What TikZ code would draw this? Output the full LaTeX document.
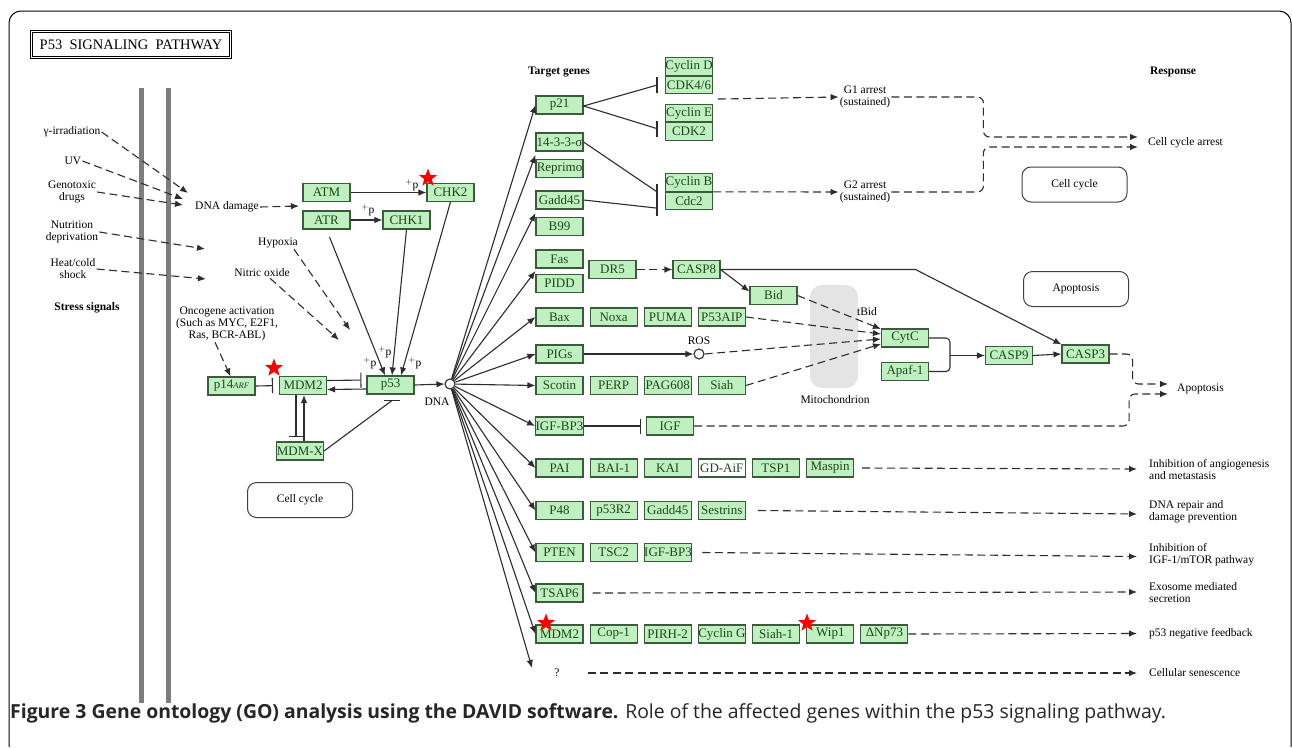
\documentclass[tikz,border=0pt]{standalone}
\usepackage{fontspec}
\setmainfont{Liberation Serif}
\newfontfamily\capfont{Open Sans}
\usetikzlibrary{arrows.meta}
\usetikzlibrary{positioning}
\usetikzlibrary{shapes.geometric}
\usetikzlibrary{calc}

\definecolor{genefill}{RGB}{191,240,191}
\definecolor{geneline}{RGB}{60,90,60}
\definecolor{genetext}{RGB}{30,70,30}
\definecolor{linegray}{RGB}{45,45,45}
\definecolor{mitogray}{RGB}{228,228,228}
\definecolor{bargray}{RGB}{125,125,125}

\newcommand{\genesize}{\fontsize{13}{13}\selectfont}
\newcommand{\labsize}{\fontsize{11.5}{12}\selectfont}

\begin{document}
\begin{tikzpicture}
        [
            x = 1pt, y = -1pt,
            > = {Latex[length=8pt,width=6.5pt]},
            gene/.style = {rectangle, draw=geneline, fill=genefill, line width=1.1pt, text=genetext,
                minimum width=47pt, minimum height=18pt, inner sep=0pt, font=\genesize},
            lab/.style = {align=center, font=\labsize, inner sep=1pt},
            resp/.style = {anchor=west, align=left, font=\labsize, inner sep=0pt},
            link/.style = {draw=linegray, line width=1.1pt},
            dashlink/.style = {link, dash pattern=on 8pt off 4.5pt},
            inh/.style = {link, -{Bar[width=15pt,line width=1.1pt]}},
            region/.style = {rectangle, draw=black!75, line width=1pt, rounded corners=9pt,
                minimum width=105pt, minimum height=35pt, font=\labsize},
            hit/.style = {star, star points=5, star point ratio=2.4, fill=red, minimum size=19pt, inner sep=0pt},
            port/.style = {circle, draw=linegray, fill=white, line width=1.1pt, minimum size=10pt, inner sep=0pt}
        ]
        \useasboundingbox (0,0) rectangle (1292,747);
        \fill [white] (0,0) rectangle (1292,747);
        \draw [line width=1pt, rounded corners=12pt] (9,747) -- (9,11) -- (1291,11) -- (1291,747);

        % membrane and mitochondrion
        \fill [bargray] (138.5,88) rectangle (143.5,703);
        \fill [bargray] (165.5,88) rectangle (170.5,703);
        \fill [mitogray, rounded corners=12pt] (810,285) rectangle (858,388);

        \node [draw, line width=0.8pt, double, double distance=1.6pt, minimum width=199pt, minimum height=26pt,
            font=\fontsize{14.5}{14.5}\selectfont] (title) at (131,44.5) {P53\ \ SIGNALING\ \ PATHWAY};

        % stress signals
        \node [lab] (gamma) at (72,132) {γ-irradiation};
        \node [lab] (uv) at (73,161) {UV};
        \node [lab] (geno) at (72,192) {Genotoxic\\drugs};
        \node [lab] (nutri) at (72,232) {Nutrition\\deprivation};
        \node [lab] (heat) at (73,269) {Heat/cold\\shock};
        \node [lab, font=\labsize\bfseries] (stress) at (87,308) {Stress signals};
        \node [lab] (dnadmg) at (227,207) {DNA damage};
        \node [lab] (hypoxia) at (278,243) {Hypoxia};
        \node [lab] (nitric) at (262,273) {Nitric oxide};
        \node [lab] (onco) at (227,324) {Oncogene activation\\(Such as MYC, E2F1,\\Ras, BCR-ABL)};

        % p53 core
        \node [gene] (atm) at (326.5,192.5) {ATM};
        \node [gene] (atr) at (326.5,220) {ATR};
        \node [gene] (chk2) at (450.5,192.5) {CHK2};
        \node [gene] (chk1) at (406.5,220) {CHK1};
        \node [gene] (p53) at (390.5,385) {p53};
        \node [gene] (mdm2) at (303,385.5) {MDM2};
        \node [gene] (p14arf) at (231.5,386) {p14{\fontsize{8.5}{8.5}\selectfont\itshape ARF}};
        \node [gene] (mdmx) at (300,451) {MDM-X};
        \node [port] (dna) at (450,384) {};
        \node [lab] (dnalab) at (437,402) {DNA};
        \node [region] (cyclel) at (300,500) {Cell cycle};
        \node [lab] (plus1) at (412,185) {$^{+}$p};
        \node [lab] (plus2) at (368,210) {$^{+}$p};
        \node [lab] (plus3) at (370,363) {$^{+}$p};
        \node [lab] (plus4) at (385,352) {$^{+}$p};
        \node [lab] (plus5) at (415,363) {$^{+}$p};

        % target genes
        \node [lab, font=\labsize\bfseries] (target) at (559,72) {Target genes};
        \node [gene] (p21) at (559.5,105) {p21};
        \node [gene] (sigma) at (559.5,142) {14-3-3-σ};
        \node [gene, below=7pt of sigma] (reprimo) {Reprimo};
        \node [gene] (gadd45a) at (559.5,200) {Gadd45};
        \node [gene, below=7pt of gadd45a] (b99) {B99};
        \node [gene] (fas) at (559.5,259) {Fas};
        \node [gene, below=5pt of fas] (pidd) {PIDD};
        \node [gene] (bax) at (559.5,317) {Bax};
        \node [gene, right=6pt of bax] (noxa) {Noxa};
        \node [gene, right=6pt of noxa] (puma) {PUMA};
        \node [gene, right=6pt of puma] (p53aip) {P53AIP};
        \node [gene] (pigs) at (559.5,354) {PIGs};
        \node [gene] (scotin) at (559.5,385.5) {Scotin};
        \node [gene, right=6pt of scotin] (perp) {PERP};
        \node [gene, right=6pt of perp] (pag608) {PAG608};
        \node [gene, right=6pt of pag608] (siah) {Siah};
        \node [gene] (igfbp3a) at (559.5,426) {IGF-BP3};
        \node [gene] (igf) at (670,426) {IGF};
        \node [gene] (pai) at (559.5,468) {PAI};
        \node [gene, right=6pt of pai] (bai1) {BAI-1};
        \node [gene, right=6pt of bai1] (kai) {KAI};
        \node [gene, right=6pt of kai, fill=white] (gdaif) {GD-AiF};
        \node [gene, right=6pt of gdaif] (tsp1) {TSP1};
        \node [gene, right=6pt of tsp1] (maspin) {Maspin};
        \node [gene] (p48) at (559.5,510.5) {P48};
        \node [gene, right=6pt of p48] (p53r2) {p53R2};
        \node [gene, right=6pt of p53r2] (gadd45b) {Gadd45};
        \node [gene, right=6pt of gadd45b] (sestrins) {Sestrins};
        \node [gene] (pten) at (559.5,552.5) {PTEN};
        \node [gene, right=6pt of pten] (tsc2) {TSC2};
        \node [gene, right=6pt of tsc2] (igfbp3b) {IGF-BP3};
        \node [gene] (tsap6) at (559.5,593) {TSAP6};
        \node [gene] (mdm2b) at (559.5,634) {MDM2};
        \node [gene, right=6pt of mdm2b] (cop1) {Cop-1};
        \node [gene, right=6pt of cop1] (pirh2) {PIRH-2};
        \node [gene, right=6pt of pirh2] (cycg) {Cyclin G};
        \node [gene, right=6pt of cycg] (siah1) {Siah-1};
        \node [gene, right=6pt of siah1] (wip1) {Wip1};
        \node [gene, right=6pt of wip1] (dnp73) {ΔNp73};
        \node [lab] (unknown) at (557,673) {?};

        % cell cycle
        \node [gene, minimum height=17.5pt] (cycd) at (689,66.5) {Cyclin D};
        \node [gene, minimum height=17.5pt, below=0pt of cycd] (cdk46) {CDK4/6};
        \node [gene, minimum height=17.5pt] (cyce) at (689,113) {Cyclin E};
        \node [gene, minimum height=17.5pt, below=0pt of cyce] (cdk2) {CDK2};
        \node [gene, minimum height=17.5pt] (cycb) at (689,182.5) {Cyclin B};
        \node [gene, minimum height=17.5pt, below=0pt of cycb] (cdc2) {Cdc2};
        \node [lab] (g1) at (865,97) {G1 arrest\\(sustained)};
        \node [lab] (g2) at (865,192) {G2 arrest\\(sustained)};
        \node [region] (cycler) at (1074.5,184.5) {Cell cycle};

        % apoptosis
        \node [gene] (dr5) at (612.5,269.5) {DR5};
        \node [gene] (casp8) at (696.5,269.5) {CASP8};
        \node [gene] (bid) at (773.5,295.5) {Bid};
        \node [gene] (cytc) at (905,338) {CytC};
        \node [gene] (apaf) at (905,371.5) {Apaf-1};
        \node [gene] (casp9) at (1009,355.5) {CASP9};
        \node [gene] (casp3) at (1085.5,354) {CASP3};
        \node [port] (ros) at (699,354) {};
        \node [lab] (roslab) at (699,341) {ROS};
        \node [lab] (tbid) at (867,312) {tBid};
        \node [lab] (mito) at (835,400) {Mitochondrion};
        \node [region] (apopbox) at (1076,289) {Apoptosis};

        % response
        \node [lab, font=\labsize\bfseries] (response) at (1173,72) {Response};
        \node [resp] (ccarrest) at (1148,143) {Cell cycle arrest};
        \node [resp] (apoptosis) at (1177,389) {Apoptosis};
        \node [resp] (angio) at (1149,469) {Inhibition of angiogenesis\\and metastasis};
        \node [resp] (repair) at (1149,512) {DNA repair and\\damage prevention};
        \node [resp] (mtor) at (1149,554.5) {Inhibition of\\IGF-1/mTOR pathway};
        \node [resp] (exosome) at (1149,593) {Exosome mediated\\secretion};
        \node [resp] (feedback) at (1149,633.5) {p53 negative feedback};
        \node [resp] (senes) at (1149,673) {Cellular senescence};

        % hits
        \node [hit] (star1) at (428,178) {};
        \node [hit] (star2) at (274,368) {};
        \node [hit] (star3) at (546,623) {};
        \node [hit] (star4) at (807,623) {};

        \coordinate (dmgin1) at (188,193);
        \coordinate (dmgin2) at (183,199);
        \coordinate (dmgin3) at (183,205);
        \coordinate (nutend) at (205,249);
        \coordinate (heatend) at (206,279);
        \coordinate (atmatr) at (299,206);
        \coordinate (hypend) at (350,330);
        \coordinate (nitend) at (339,340);
        \coordinate (qend) at (532,668);
        \coordinate (mdmxbar) at ([xshift=1.5pt,yshift=-6pt]p53.south);
        \coordinate (cdbar) at ([xshift=-8pt]cdk46.west);
        \coordinate (cebar) at ([xshift=-8pt,yshift=3pt]cdk2.west);
        \coordinate (cbbar1) at ([xshift=-8pt]cycb.south west);
        \coordinate (cbbar2) at ([xshift=-8pt,yshift=-7pt]cdc2.west);
        \coordinate (ccin1) at ([xshift=-10pt,yshift=6pt]ccarrest.west);
        \coordinate (ccin2) at ([xshift=-10pt,yshift=-4pt]ccarrest.west);
        \coordinate (apin1) at ([xshift=-9pt,yshift=5pt]apoptosis.west);
        \coordinate (apin2) at ([xshift=-9pt,yshift=-5pt]apoptosis.west);
        \coordinate (c9join) at ($(casp9.west)+(-35,0)$);

        % stress connectors
        \draw [dashlink, ->] (gamma.east) -- (dmgin1);
        \draw [dashlink, ->] (uv.east) -- (dmgin2);
        \draw [dashlink, ->] (geno.east) -- (dmgin3);
        \draw [dashlink, ->] (nutri.east) -- (nutend);
        \draw [dashlink, ->] (heat.east) -- (heatend);
        \draw [dashlink, ->] (dnadmg.east) -- (atmatr);
        \draw [dashlink, ->] ([xshift=-5pt]hypoxia.south east) -- (hypend);
        \draw [dashlink, ->] ([xshift=8pt]nitric.south) -- (nitend);
        \draw [dashlink, ->] ([xshift=-12pt]onco.south) -- ([xshift=-1pt]p14arf.north);

        % p53 activation
        \draw [link, ->] (atm.east) -- (chk2.west);
        \draw [link, ->] (atr.east) -- (chk1.west);
        \draw [link, ->, shorten <=8pt] (atr.south) -- ([xshift=-5.5pt]p53.north);
        \draw [link, ->] (chk1.south) -- ([xshift=1.5pt]p53.north);
        \draw [link, ->] (chk2.south) -- ([xshift=10.5pt]p53.north);
        \draw [inh, shorten >=5pt] ([yshift=5pt]mdm2.east) -- ([yshift=5pt]p53.west);
        \draw [link, ->] ([yshift=-4pt]p53.west) -- ([yshift=-4pt]mdm2.east);
        \draw [inh, shorten >=6pt] (p14arf.east) -- (mdm2.west);
        \draw [inh, shorten >=4pt] ([xshift=-7pt]mdm2.south) -- ([xshift=-4pt]mdmx.north);
        \draw [link, ->] ([xshift=4pt]mdmx.north) -- ([xshift=1pt]mdm2.south);
        \draw [link] (mdmx.east) -- (mdmxbar);
        \draw [link] ([xshift=-8pt]mdmxbar) -- ([xshift=8pt]mdmxbar);
        \draw [link, ->] (p53.east) -- (dna.west);

        % DNA to target genes
        \draw [link, ->] (dna) -- (p21.west);
        \draw [link, ->] (dna) -- ($(sigma.south west)!0.5!(reprimo.north west)$);
        \draw [link, ->] (dna) -- ($(gadd45a.south west)!0.5!(b99.north west)$);
        \draw [link, ->] (dna) -- ($(fas.south west)!0.5!(pidd.north west)$);
        \draw [link, ->] (dna) -- (bax.west);
        \draw [link, ->] (dna) -- (pigs.west);
        \draw [link, ->] (dna) -- (scotin.west);
        \draw [link, ->] (dna) -- (igfbp3a.west);
        \draw [link, ->] (dna) -- (pai.west);
        \draw [link, ->] (dna) -- (p48.west);
        \draw [link, ->] (dna) -- (pten.west);
        \draw [link, ->] (dna) -- (tsap6.west);
        \draw [link, ->] (dna) -- (mdm2b.west);
        \draw [link, ->] (dna) -- (qend);

        % cell cycle arrest
        \draw [link] ([yshift=-1pt]p21.east) -- (cdbar);
        \draw [link] (cdbar) ++(0,-8) -- ++(0,16);
        \draw [link] ([yshift=-1pt]p21.east) -- (cebar);
        \draw [link] (cebar) ++(0,-8) -- ++(0,16);
        \draw [link] (sigma.east) -- (cbbar1);
        \draw [link] (cbbar1) ++(0,-8) -- ++(0,16);
        \draw [link] (gadd45a.east) -- (cbbar2);
        \draw [link] (cbbar2) ++(0,-8) -- ++(0,16);
        \draw [dashlink, ->] ($(cdk46.south east)!0.5!(cyce.north east)+(5,0)$) -- (g1.west);
        \draw [dashlink, ->] (cycb.south east) -- (g2.west);
        \draw [dashlink, ->, rounded corners=6pt] (g1.east) -- ++(92,0) |- (ccin1);
        \draw [dashlink, ->, rounded corners=6pt] (g2.east) -- ++(92,0) |- (ccin2);

        % apoptosis
        \draw [dashlink, ->] (dr5.east) -- (casp8.west);
        \draw [link, ->] (casp8.east) -- ([yshift=4pt]bid.west);
        \draw [link, ->] (casp8.east) -- ++(195,0) -- (casp3.north west);
        \draw [link, ->] (pigs.east) -- (ros.west);
        \draw [dashlink, ->] (bid.east) -- ([yshift=9pt]cytc.west);
        \draw [dashlink, ->] (p53aip.east) -- ([yshift=4pt]cytc.west);
        \draw [dashlink, ->] (ros.east) -- ([yshift=-1pt]cytc.west);
        \draw [dashlink, ->] (siah.east) -- ([yshift=-6pt]cytc.west);
        \draw [link, rounded corners=4pt] (cytc.east) -| (c9join) |- (apaf.east);
        \draw [link, ->] (c9join) -- (casp9.west);
        \draw [link, ->] (casp9.east) -- (casp3.west);
        \draw [inh, shorten >=5pt] (igfbp3a.east) -- (igf.west);
        \draw [dashlink, ->, rounded corners=6pt] (casp3.east) -- ++(23,0) |- (apin1);
        \draw [dashlink, ->, rounded corners=6pt] (igf.east) -- ++(435,0) |- (apin2);

        % other responses
        \draw [dashlink, ->] ([xshift=8pt]maspin.east) -- ([xshift=-12pt]angio.west);
        \draw [dashlink, ->] ([xshift=12pt]sestrins.east) -- ([xshift=-12pt,yshift=-2pt]repair.west);
        \draw [dashlink, ->] ([xshift=10pt]igfbp3b.east) -- ([xshift=-12pt,yshift=-2pt]mtor.west);
        \draw [dashlink, ->] ([xshift=9pt]tsap6.east) -- ([xshift=-12pt,yshift=1pt]exosome.west);
        \draw [dashlink, ->] (dnp73.east) -- ([xshift=-12pt]feedback.west);
        \draw [dashlink, ->] ([xshift=27pt]unknown.east) -- ([xshift=-12pt]senes.west);

        \node [anchor=west, inner sep=0pt, text=black!85, font=\capfont\fontsize{19.4}{19.4}\selectfont] (caption) at (10,713)
            {\textbf{Figure 3 Gene ontology (GO) analysis using the DAVID software.} Role of the affected genes within the p53 signaling pathway.};
    \end{tikzpicture}
\end{document}
